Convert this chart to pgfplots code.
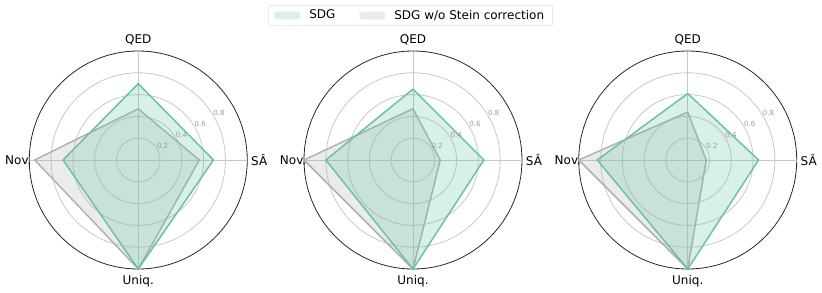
\documentclass[border=0pt]{standalone}
\usepackage{pgfplots}
\pgfplotsset{compat=1.18}
\usepgfplotslibrary{polar}
\usepackage{fontspec}
\setmainfont{DejaVu Sans}
\definecolor{sdg}{HTML}{66C2A5}
\definecolor{wo}{HTML}{B0B0B0}
\definecolor{gridc}{HTML}{C8C8C8}
\definecolor{rlab}{HTML}{9A9A9A}
\pgfplotsset{
  radar/.style={
    scale only axis, width=163.5pt, height=163.5pt, anchor=center,
    xmin=0, xmax=360, ymin=0, ymax=1,
    xtick={0,90,180,270}, xticklabels={},
    ytick={0.2,0.4,0.6,0.8}, yticklabels={},
    grid=major, major grid style={gridc, line width=0.6pt},
    separate axis lines,
    x axis line style={black!85, line width=0.6pt},
    y axis line style={gridc, line width=0.6pt},
    major tick length=0pt, clip=false,
  },
  wostyle/.style={draw=wo, line width=1.1pt, fill=wo, fill opacity=0.25, line join=miter},
  sdgstyle/.style={draw=sdg, line width=1.1pt, fill=sdg, fill opacity=0.25, line join=miter},
}
\newcommand{\radarlabels}{%
  \node[font=\fontsize{9}{10}\selectfont] at (axis cs:90,1.1) {QED};
  \node[font=\fontsize{9}{10}\selectfont] at (axis cs:180,1.1) {Nov.};
  \node[font=\fontsize{9}{10}\selectfont] at (axis cs:270,1.115) {Uniq.};
  \node[font=\fontsize{9}{10}\selectfont] at (axis cs:0,1.11) {SÂ};
  \node[font=\fontsize{5.3}{6}\selectfont, text=rlab] at (axis cs:30,0.258) {0.2};
  \node[font=\fontsize{5.3}{6}\selectfont, text=rlab] at (axis cs:30,0.458) {0.4};
  \node[font=\fontsize{5.3}{6}\selectfont, text=rlab] at (axis cs:30,0.656) {0.6};
  \node[font=\fontsize{5.3}{6}\selectfont, text=rlab] at (axis cs:30,0.856) {0.8};
}
\begin{document}
\begin{tikzpicture}
\useasboundingbox (0,0) rectangle (616.5pt,-219.75pt);
% chart 1
\begin{polaraxis}[radar, at={(103.7pt,-120pt)}]
\addplot[wostyle] coordinates {(90,0.47) (180,0.95) (270,1.0) (360,0.56) (450,0.47)};
\addplot[sdgstyle] coordinates {(90,0.70) (180,0.69) (270,1.0) (360,0.69) (450,0.70)};
\radarlabels
\end{polaraxis}
% chart 2
\begin{polaraxis}[radar, at={(309.75pt,-120pt)},
  legend style={at={(0.489,1.163)}, anchor=center, legend columns=2,
    draw=black!12, rounded corners=1.5pt, font=\fontsize{9}{10}\selectfont,
    inner xsep=4.5pt, inner ysep=1.5pt,
    /tikz/column 1/.style={column sep=5pt},
    /tikz/column 2/.style={column sep=16pt},
    /tikz/column 3/.style={column sep=5pt},
    /tikz/column 4/.style={column sep=0pt}},
]
\addlegendimage{legend image code/.code={\fill[sdg!25!white] (0pt,-2.7pt) rectangle (18.75pt,2.7pt);}}
\addlegendentry{SDG}
\addlegendimage{legend image code/.code={\fill[wo!25!white] (0pt,-2.7pt) rectangle (18.75pt,2.7pt);}}
\addlegendentry{SDG w/o Stein correction}
\addplot[wostyle, forget plot] coordinates {(90,0.47) (180,1.0) (270,1.0) (360,0.25) (450,0.47)};
\addplot[sdgstyle, forget plot] coordinates {(90,0.65) (180,0.80) (270,1.0) (360,0.65) (450,0.65)};
\radarlabels
\end{polaraxis}
% chart 3
\begin{polaraxis}[radar, at={(515.8pt,-120pt)}]
\addplot[wostyle] coordinates {(90,0.44) (180,1.0) (270,1.0) (360,0.17) (450,0.44)};
\addplot[sdgstyle] coordinates {(90,0.61) (180,0.83) (270,1.0) (360,0.65) (450,0.61)};
\radarlabels
\end{polaraxis}
\end{tikzpicture}
\end{document}
